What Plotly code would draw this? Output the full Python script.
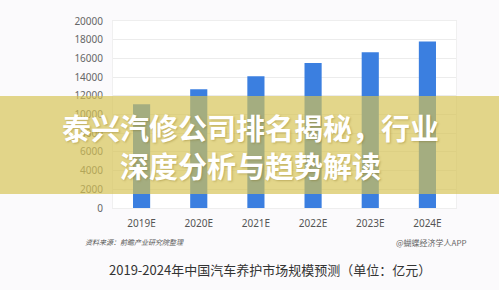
import plotly.graph_objects as go

categories = ["2019E", "2020E", "2021E", "2022E", "2023E", "2024E"]
market_size = [11100, 12700, 14100, 15500, 16650, 17800]
y_ticks = [0, 2000, 4000, 6000, 8000, 10000, 12000, 14000, 16000, 18000, 20000]
banner_lines = ["泰兴汽修公司排名揭秘，行业", "深度分析与趋势解读"]
chart_title = "2019-2024年中国汽车养护市场规模预测（单位：亿元）"
source_note = "资料来源：前瞻产业研究院整理"
watermark = "@蝴蝶经济学人APP"

W, H = 499, 290
L, R, T, B = 113, 43, 21, 82
pw, ph = W - L - R, H - T - B

def px_x(x):
    return (x - L) / pw

def px_y(y):
    return (H - B - y) / ph

fig = go.Figure()
fig.add_trace(go.Bar(
    x=categories, y=market_size, width=0.3,
    marker=dict(color="#3b7fe0", line=dict(width=0)),
    hoverinfo="skip",
))

fig.update_layout(
    width=W, height=H,
    margin=dict(l=L, r=R, t=T, b=B, pad=0),
    paper_bgcolor="#fbfafc",
    plot_bgcolor="#ffffff",
    showlegend=False,
    font=dict(family="Noto Sans, Noto Sans CJK SC", color="#555"),
    xaxis=dict(
        type="category", showgrid=False, zeroline=False,
        showline=True, linecolor="#eeeeee", mirror=True,
        ticks="", ticklabelstandoff=6,
        tickfont=dict(size=10, color="#555"),
    ),
    yaxis=dict(
        range=[0, 20000], tickvals=y_ticks,
        ticktext=[str(v) for v in y_ticks],
        showgrid=True, gridcolor="#ececec", gridwidth=1,
        zeroline=False, showline=True, linecolor="#f0f0f0", mirror=True,
        ticks="", ticklabelstandoff=7,
        tickfont=dict(size=10, color="#666"),
    ),
)

# yellow banner overlay
fig.add_shape(
    type="rect", xref="paper", yref="paper",
    x0=px_x(0), x1=px_x(W), y0=px_y(194), y1=px_y(96),
    fillcolor="rgba(214,195,83,0.68)", line=dict(width=0), layer="above",
)

for i, (txt, yc) in enumerate(zip(banner_lines, [127, 165])):
    fig.add_annotation(
        text=txt, xref="paper", yref="paper",
        x=px_x(250), y=px_y(yc), xanchor="center", yanchor="middle",
        showarrow=False,
        font=dict(family="Noto Sans CJK SC", size=29, color="#ffffff",
                  weight="bold", shadow="1px 1px 2px rgba(120,100,20,0.35)"),
    )

fig.add_annotation(
    text="<i>" + source_note + "</i>", xref="paper", yref="paper",
    x=px_x(83), y=px_y(242), xanchor="left", yanchor="middle",
    showarrow=False, font=dict(family="Noto Sans CJK SC", size=7, color="#555"),
)
fig.add_annotation(
    text=watermark, xref="paper", yref="paper",
    x=px_x(394), y=px_y(242), xanchor="left", yanchor="middle",
    showarrow=False, font=dict(family="Noto Sans CJK SC", size=8, color="#666"),
)
fig.add_annotation(
    text=chart_title, xref="paper", yref="paper",
    x=px_x(270), y=px_y(269), xanchor="center", yanchor="middle",
    showarrow=False, font=dict(family="Noto Sans CJK SC", size=13, color="#333"),
)

fig.write_html("out.html")
